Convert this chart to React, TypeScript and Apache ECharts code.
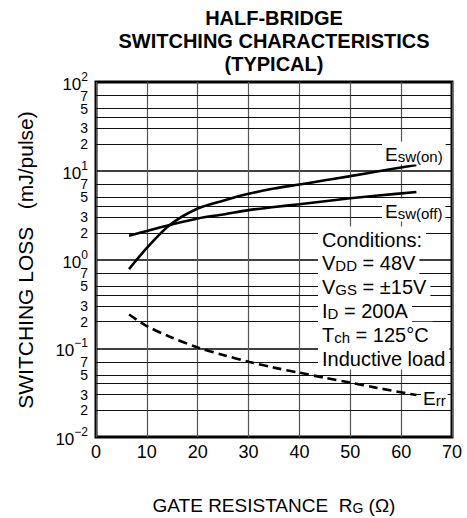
import React, { useEffect, useRef } from 'react';
import * as echarts from 'echarts';

// Gate resistance (Ω) sample points
const rg = [6.5, 10, 14.5, 20, 25, 30, 35, 40, 45, 50, 55, 63];
// Switching losses (mJ/pulse)
const eswOn = [0.78, 1.35, 2.45, 3.75, 4.6, 5.5, 6.3, 7.0, 7.8, 8.7, 9.75, 11.6];
const eswOff = [1.85, 2.1, 2.45, 2.9, 3.22, 3.6, 3.9, 4.2, 4.54, 4.9, 5.22, 5.76];
const err = [0.24, 0.178, 0.135, 0.102, 0.084, 0.0706, 0.0605, 0.053, 0.0465, 0.041, 0.036, 0.0297];

// Axis scale definitions
const xTickStep = 10;
const xMin = 0;
const xMax = 70;
const yMin = 0.01;
const yMax = 100;
const decades = [0.01, 0.1, 1, 10];
const minorMultipliers = [2, 3, 4, 5, 7];
const labeledMinor = [2, 3, 5, 7];

const conditions = [
  '{m|Conditions:}',
  '{m|V}{s|DD}{m| = 48V}',
  '{m|V}{s|GS}{m| = ±15V}',
  '{m|I}{s|D}{m| = 200A}',
  '{m|T}{s|ch}{m| = 125°C}',
  '{m|Inductive load}',
];

const FONT = "'Liberation Sans', Arial, Helvetica, sans-serif";

export default function App() {
  const ref = useRef<HTMLDivElement>(null);

  useEffect(() => {
    if (!ref.current) return;
    const chart = echarts.init(ref.current, null, { renderer: 'svg' });

    const minorLabel = (m: number) => {
      if (!labeledMinor.includes(m)) return { show: false };
      if (m === 7) return { show: true, padding: [0, 0, 3, 0] };
      if (m === 5) return { show: true, padding: [3, 0, 0, 0] };
      return { show: true };
    };

    const minorLines = decades.flatMap((d) =>
      minorMultipliers.map((m) => ({
        name: String(m),
        yAxis: +(d * m).toPrecision(6),
        label: minorLabel(m),
      }))
    );

    const toPairs = (ys: number[]) => rg.map((x, i) => [x, ys[i]]);

    const richMain = (size: number, sub: number) => ({
      m: { fontSize: size, fontFamily: FONT, color: '#000', lineHeight: size + 2, verticalAlign: 'bottom' },
      s: { fontSize: sub, fontFamily: FONT, color: '#000', verticalAlign: 'bottom', lineHeight: size + 2 },
    });

    const labelText = (x: number, y: number, text: string, size: number, sub: number, pad: number[]) => ({
      type: 'text',
      x,
      y,
      z: 100,
      style: {
        text,
        rich: richMain(size, sub),
        align: 'left',
        verticalAlign: 'middle',
        textAlign: 'left',
        textVerticalAlign: 'middle',
        backgroundColor: '#fff',
        padding: pad,
      },
    });

    const condStartY = 238.5;
    const condStep = 23.8;

    chart.setOption({
      animation: false,
      backgroundColor: '#fff',
      grid: {
        left: 96,
        right: 15,
        top: 82,
        bottom: 81,
        show: true,
        borderColor: '#000',
        borderWidth: 3,
        backgroundColor: 'transparent',
      },
      xAxis: {
        type: 'value',
        min: xMin,
        max: xMax,
        interval: xTickStep,
        axisLine: { show: false },
        axisTick: { show: false },
        axisLabel: { fontSize: 18, color: '#000', fontFamily: FONT, margin: 6 },
        splitLine: { show: true, lineStyle: { color: '#555', width: 1.2 } },
      },
      yAxis: {
        type: 'log',
        logBase: 10,
        min: yMin,
        max: yMax,
        axisLine: { show: false },
        axisTick: { show: false },
        axisLabel: {
          margin: 8,
          formatter: (v: number) => {
            const e = Math.round(Math.log10(v));
            const es = e < 0 ? '−' + -e : String(e);
            return `{b|10}{s|${es}}`;
          },
          rich: {
            b: { fontSize: 17, fontFamily: FONT, color: '#000', verticalAlign: 'bottom', padding: [5, 0, 0, 0] },
            s: { fontSize: 12, fontFamily: FONT, color: '#000', verticalAlign: 'top' },
          },
        },
        splitLine: { show: true, lineStyle: { color: '#000', width: 1.5 } },
      },
      series: [
        {
          name: 'Esw(on)',
          type: 'line',
          data: toPairs(eswOn),
          smooth: 0.3,
          symbol: 'none',
          lineStyle: { color: '#000', width: 2.6 },
          z: 5,
          markLine: {
            silent: true,
            symbol: ['none', 'none'],
            animation: false,
            lineStyle: { color: '#111', width: 1, type: 'solid' },
            label: {
              show: true,
              position: 'start',
              formatter: '{b}',
              distance: 8,
              fontSize: 14,
              lineHeight: 12,
              fontFamily: FONT,
              color: '#000',
            },
            emphasis: { disabled: true },
            data: minorLines,
          },
        },
        {
          name: 'Esw(off)',
          type: 'line',
          data: toPairs(eswOff),
          smooth: 0.3,
          symbol: 'none',
          lineStyle: { color: '#000', width: 2.6 },
          z: 5,
        },
        {
          name: 'Err',
          type: 'line',
          data: toPairs(err),
          smooth: 0.3,
          symbol: 'none',
          lineStyle: { color: '#000', width: 2.6, type: [9, 5] },
          z: 5,
        },
      ],
      graphic: [
        {
          type: 'text',
          x: 274,
          y: 6,
          z: 100,
          style: {
            text: 'HALF-BRIDGE\nSWITCHING CHARACTERISTICS\n(TYPICAL)',
            fontSize: 20,
            fontWeight: 'bold',
            fontFamily: FONT,
            lineHeight: 23,
            fill: '#000',
            align: 'center',
            verticalAlign: 'top',
            textAlign: 'center',
            textVerticalAlign: 'top',
          },
        },
        {
          type: 'text',
          x: 25,
          y: 260,
          rotation: Math.PI / 2,
          z: 100,
          style: {
            text: 'SWITCHING LOSS   (mJ/pulse)',
            fontSize: 21,
            fontFamily: FONT,
            fill: '#000',
            align: 'center',
            verticalAlign: 'middle',
            textAlign: 'center',
            textVerticalAlign: 'middle',
          },
        },
        {
          type: 'text',
          x: 274,
          y: 504,
          z: 100,
          style: {
            text: '{a|GATE RESISTANCE  R}{s|G}{a| (Ω)}',
            rich: {
              a: { fontSize: 19, fontFamily: FONT, color: '#000', verticalAlign: 'bottom', lineHeight: 21 },
              s: { fontSize: 14, fontFamily: FONT, color: '#000', verticalAlign: 'bottom', lineHeight: 21 },
            },
            align: 'center',
            verticalAlign: 'middle',
            textAlign: 'center',
            textVerticalAlign: 'middle',
          },
        },
        labelText(382, 153, '{m|E}{s|sw(on)}', 19, 15, [1, 3, 1, 3]),
        labelText(382, 210, '{m|E}{s|sw(off)}', 19, 15, [1, 3, 1, 3]),
        labelText(421, 397, '{m|E}{s|rr}', 19, 15, [0, 2, 0, 2]),
        ...conditions.map((t, i) => labelText(318, condStartY + i * condStep, t, 20, 15, [1, 4, 1, 4])),
      ],
    });

    return () => chart.dispose();
  }, []);

  return (
    <div
      ref={ref}
      style={{ position: 'fixed', left: 0, top: 0, width: 467, height: 518, background: '#fff' }}
    />
  );
}
